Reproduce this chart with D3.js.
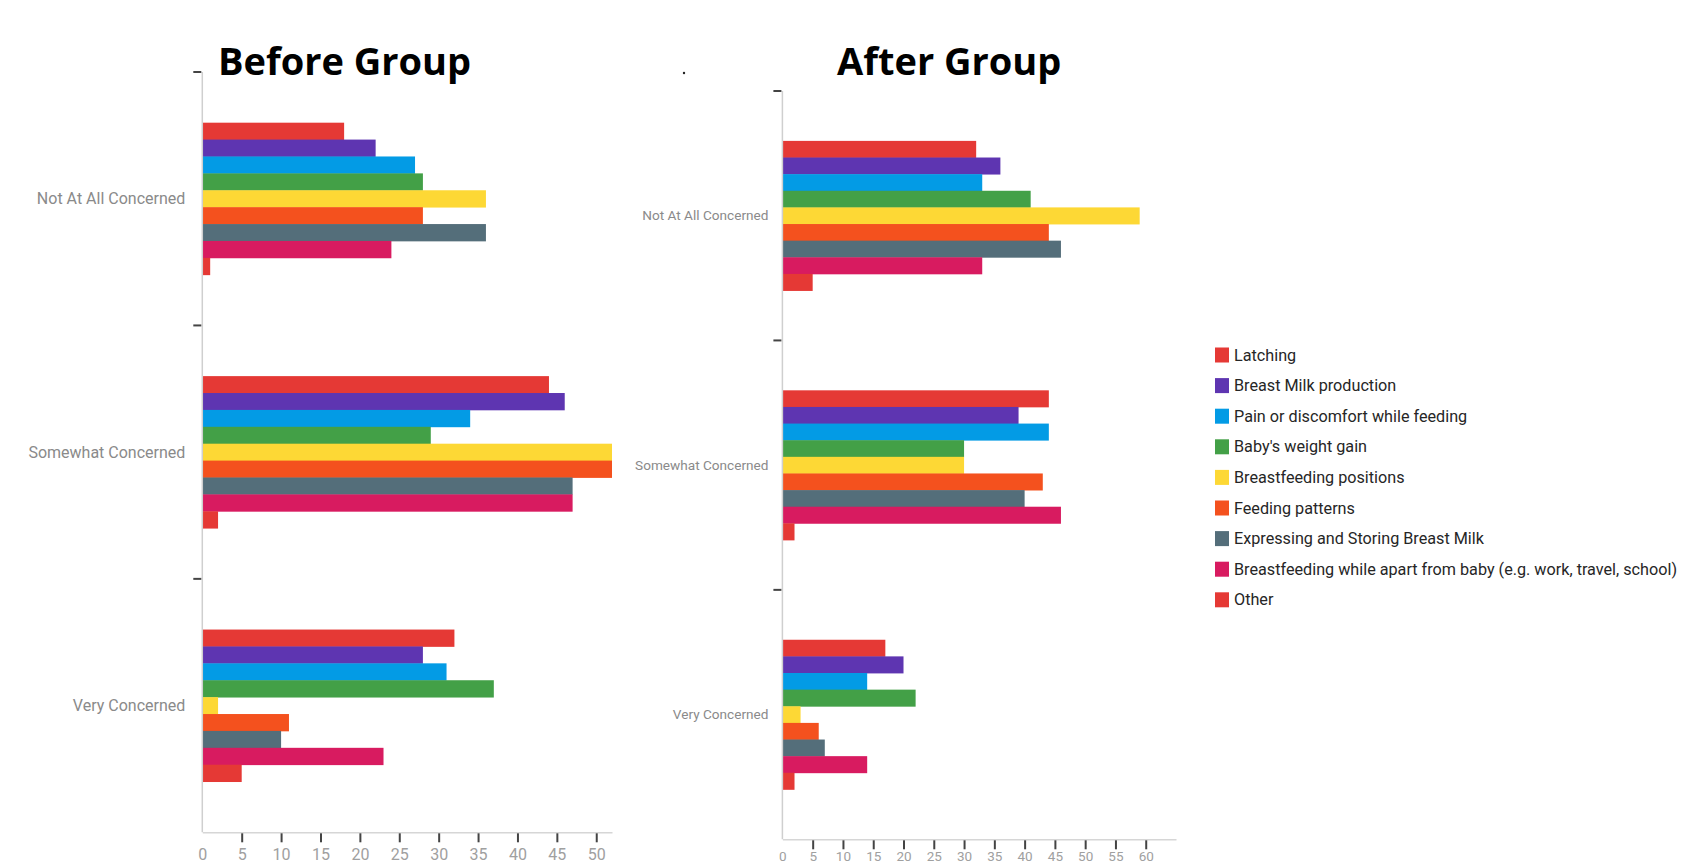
<!DOCTYPE html>
<html>
<head>
<meta charset="utf-8">
<script src="https://cdn.jsdelivr.net/npm/d3@7"></script>
<style>
  html, body { margin: 0; padding: 0; background: #fff; }
  svg { display: block; }
</style>
</head>
<body>
<script>
// ---------- DATA ----------
const categories = ["Not At All Concerned", "Somewhat Concerned", "Very Concerned"];
const seriesNames = [
  "Latching",
  "Breast Milk production",
  "Pain or discomfort while feeding",
  "Baby's weight gain",
  "Breastfeeding positions",
  "Feeding patterns",
  "Expressing and Storing Breast Milk",
  "Breastfeeding while apart from baby (e.g. work, travel, school)",
  "Other"
];
const seriesColors = ["#e53935", "#5e35b1", "#039be5", "#43a047", "#fdd835", "#f4511e", "#546e7a", "#d81b60", "#e53935"];

// values per category (rows) for each series (columns)
const beforeNotAtAll = [18, 22, 27, 28, 36, 28, 36, 24, 1];
const beforeSomewhat = [44, 46, 34, 29, 52, 52, 47, 47, 2];
const beforeVery     = [32, 28, 31, 37, 2, 11, 10, 23, 5];
const afterNotAtAll  = [32, 36, 33, 41, 59, 44, 46, 33, 5];
const afterSomewhat  = [44, 39, 44, 30, 30, 43, 40, 46, 2];
const afterVery      = [17, 20, 14, 22, 3, 6, 7, 14, 2];

const beforeTicks = [0, 5, 10, 15, 20, 25, 30, 35, 40, 45, 50];
const afterTicks  = [0, 5, 10, 15, 20, 25, 30, 35, 40, 45, 50, 55, 60];
const beforeMax = 52;
const afterMax = 65;

const titles = ["Before Group", "After Group"];

// ---------- DRAW ----------
const W = 1683, H = 866;
const svg = d3.select("body").append("svg").attr("width", W).attr("height", H);

function drawPanel(p) {
  const g = svg.append("g");
  const x = d3.scaleLinear().domain([0, p.max]).range([p.x0, p.x1]);
  const y = d3.scaleBand().domain(categories).range([p.yTop, p.yBottom])
    .paddingInner(0.4).paddingOuter(0.2);
  const ySub = d3.scaleBand().domain(seriesNames).range([0, y.bandwidth()]);

  // bars
  const rows = categories.map((c, i) => ({ cat: c, vals: p.values[i] }));
  g.selectAll("g.cat").data(rows).join("g")
    .attr("class", "cat")
    .attr("transform", d => `translate(0,${y(d.cat)})`)
    .selectAll("rect")
    .data(d => d.vals.map((v, j) => ({ s: seriesNames[j], v, color: seriesColors[j] })))
    .join("rect")
    .attr("x", x(0))
    .attr("y", d => ySub(d.s))
    .attr("width", d => x(d.v) - x(0))
    .attr("height", ySub.bandwidth() + 0.4)
    .attr("fill", d => d.color);

  // y axis line
  g.append("line")
    .attr("x1", x(0)).attr("x2", x(0))
    .attr("y1", p.yTop).attr("y2", p.yBottom)
    .attr("stroke", "#cfcfcf").attr("stroke-width", 1.5);

  // y boundary dashes
  const step = y.step();
  g.selectAll("line.ydash").data(d3.range(categories.length)).join("line")
    .attr("class", "ydash")
    .attr("x1", x(0) - 9).attr("x2", x(0) - 1)
    .attr("y1", i => p.yTop + i * step).attr("y2", i => p.yTop + i * step)
    .attr("stroke", "#444").attr("stroke-width", 2);

  // category labels
  g.selectAll("text.cat").data(categories).join("text")
    .attr("class", "cat")
    .attr("x", x(0) - p.labelGap)
    .attr("y", c => y(c) + y.bandwidth() / 2)
    .attr("dy", "0.35em")
    .attr("text-anchor", "end")
    .attr("font-family", "Roboto, sans-serif")
    .attr("font-size", p.labelSize)
    .attr("fill", "#8a8a8a")
    .text(c => c);

  // x axis
  const ax = g.append("g")
    .attr("transform", `translate(0,${p.yBottom})`)
    .call(d3.axisBottom(x).tickValues(p.ticks).tickSize(10).tickSizeOuter(0).tickPadding(p.tickPad));
  ax.select(".domain").attr("stroke", "#d6d6d6").attr("stroke-width", 1.5);
  ax.selectAll(".tick line").attr("stroke", "#444").attr("stroke-width", 2)
    .attr("y1", 1)
    .attr("display", d => d === 0 ? "none" : null);
  ax.selectAll(".tick text")
    .attr("font-family", "Roboto, sans-serif")
    .attr("font-size", p.tickSize)
    .attr("fill", "#a0a0a0");

  // title
  svg.append("text")
    .attr("x", p.titleX).attr("y", 75)
    .attr("font-family", "'Open Sans', sans-serif")
    .attr("font-weight", 700)
    .attr("font-size", 38)
    .attr("fill", "#000")
    .text(p.title);
}

drawPanel({
  values: [beforeNotAtAll, beforeSomewhat, beforeVery],
  max: beforeMax, ticks: beforeTicks,
  x0: 202.3, x1: 612, yTop: 72, yBottom: 832.3,
  labelGap: 17, labelSize: 16, tickSize: 16, tickPad: 6,
  title: titles[0], titleX: 218
});

drawPanel({
  values: [afterNotAtAll, afterSomewhat, afterVery],
  max: afterMax, ticks: afterTicks,
  x0: 782.4, x1: 1176, yTop: 91, yBottom: 839.3,
  labelGap: 14, labelSize: 13.6, tickSize: 13.5, tickPad: 2,
  title: titles[1], titleX: 837
});

// small stray dot near top middle
svg.append("circle").attr("cx", 684).attr("cy", 73).attr("r", 1.2).attr("fill", "#222");

// legend
const legend = svg.append("g").attr("transform", "translate(1215,355)");
const li = legend.selectAll("g").data(seriesNames).join("g")
  .attr("transform", (d, i) => `translate(0,${i * 30.6})`);
li.append("rect").attr("x", 0).attr("y", -7.5).attr("width", 14).attr("height", 15)
  .attr("fill", (d, i) => seriesColors[i]);
li.append("text").attr("x", 19).attr("y", 0).attr("dy", "0.35em")
  .attr("font-family", "Roboto, sans-serif").attr("font-size", 16.2)
  .attr("fill", "#262626").text(d => d);
</script>
</body>
</html>
